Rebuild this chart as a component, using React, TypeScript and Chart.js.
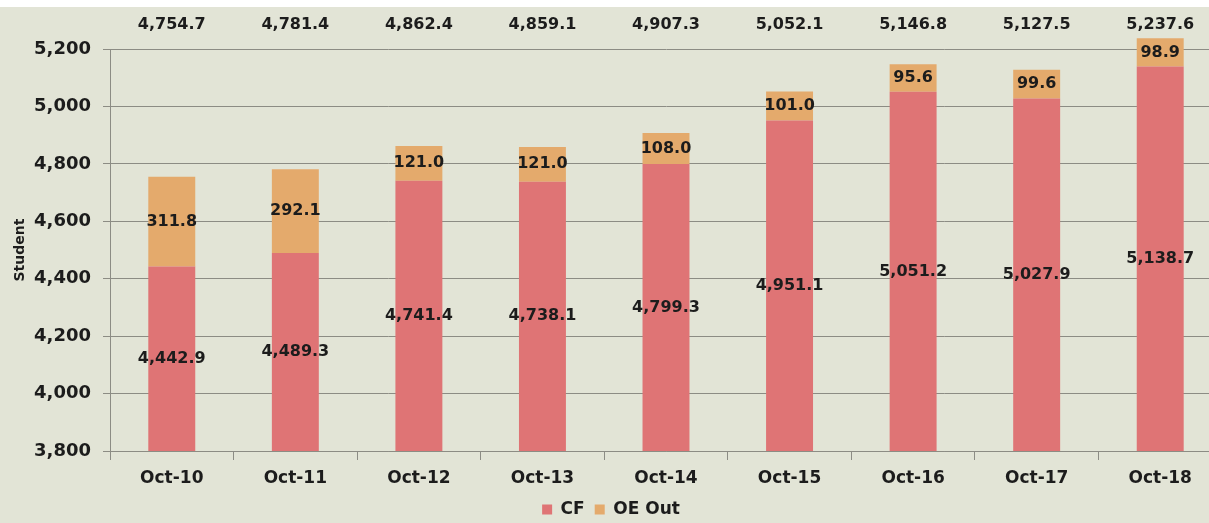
import React, { useEffect, useRef } from "react";
import { Chart, registerables } from "chart.js";

Chart.register(...registerables);

const categories = ["Oct-10", "Oct-11", "Oct-12", "Oct-13", "Oct-14", "Oct-15", "Oct-16", "Oct-17", "Oct-18"];
const cfValues = [4442.9, 4489.3, 4741.4, 4738.1, 4799.3, 4951.1, 5051.2, 5027.9, 5138.7];
const oeOutValues = [311.8, 292.1, 121.0, 121.0, 108.0, 101.0, 95.6, 99.6, 98.9];
const totalValues = [4754.7, 4781.4, 4862.4, 4859.1, 4907.3, 5052.1, 5146.8, 5127.5, 5237.6];

const FONT = "'DejaVu Sans', sans-serif";
const fmt1 = (v: number) => v.toLocaleString("en-US", { minimumFractionDigits: 1, maximumFractionDigits: 1 });

const labelPlugin = {
  id: "barLabels",
  afterDatasetsDraw(chart: any) {
    const ctx = chart.ctx;
    const area = chart.chartArea;
    ctx.save();
    ctx.fillStyle = "#1c1c1c";
    ctx.font = `bold 16px ${FONT}`;
    ctx.textAlign = "center";
    ctx.textBaseline = "middle";
    chart.data.datasets.forEach((ds: any, di: number) => {
      const meta = chart.getDatasetMeta(di);
      meta.data.forEach((el: any, i: number) => {
        const top = Math.min(el.y, el.base);
        const bot = Math.min(Math.max(el.y, el.base), area.bottom);
        const yc = (top + bot) / 2;
        ctx.fillText(fmt1(ds.data[i]), el.x, yc);
      });
    });
    const meta0 = chart.getDatasetMeta(0);
    meta0.data.forEach((el: any, i: number) => {
      ctx.fillText(fmt1(totalValues[i]), el.x, area.top - 24);
    });
    ctx.restore();
  },
};

const barClip = { left: 0, top: false, right: 0, bottom: 0 };

export default function App() {
  const ref = useRef<HTMLCanvasElement | null>(null);
  useEffect(() => {
    if (!ref.current) return;
    const chart = new Chart(ref.current, {
      type: "bar",
      data: {
        labels: categories,
        datasets: [
          { label: "CF", data: cfValues, backgroundColor: "#df7475", barPercentage: 0.38, categoryPercentage: 1, clip: barClip as any },
          { label: "OE Out", data: oeOutValues, backgroundColor: "#e4aa6c", barPercentage: 0.38, categoryPercentage: 1, clip: barClip as any },
        ],
      },
      options: {
        responsive: false,
        animation: false,
        layout: { padding: { top: 42, right: 3, left: 0, bottom: 0 } },
        plugins: {
          legend: {
            position: "bottom",
            labels: {
              font: { family: FONT, size: 17, weight: "bold" },
              color: "#1c1c1c",
              boxWidth: 10,
              boxHeight: 10,
              padding: 10,
            },
          },
          tooltip: { enabled: false },
        },
        scales: {
          x: {
            stacked: true,
            grid: { drawOnChartArea: false, drawTicks: true, tickLength: 9, color: "#8c8c84" },
            border: { color: "#8c8c84" },
            ticks: { font: { family: FONT, size: 17, weight: "bold" }, color: "#1c1c1c", padding: 8 },
            afterFit: (s: any) => { s.height = 40; },
          },
          y: {
            stacked: true,
            min: 3800,
            max: 5200,
            ticks: {
              stepSize: 200,
              font: { family: FONT, size: 18, weight: "bold" },
              color: "#1c1c1c",
              padding: 12,
              callback: (v: any) => Number(v).toLocaleString("en-US"),
            },
            grid: { color: "#8c8c84", tickLength: 7 },
            border: { color: "#8c8c84" },
            title: { display: true, text: "Student", font: { family: FONT, size: 14, weight: "bold" }, color: "#1c1c1c", padding: { top: 12, bottom: 0 } },
            afterFit: (s: any) => { s.width = 110; },
          },
        },
      },
      plugins: [labelPlugin],
    });
    return () => chart.destroy();
  }, []);
  return (
    <div style={{ position: "fixed", left: 0, top: 0, width: 1209, height: 523, overflow: "hidden", background: "#ffffff" }}>
      <div style={{ position: "absolute", left: 0, top: 7, width: 1209, height: 516, background: "#e2e4d6", overflow: "hidden" }}>
        <canvas ref={ref} width={1225} height={521} style={{ display: "block" }} />
      </div>
    </div>
  );
}
